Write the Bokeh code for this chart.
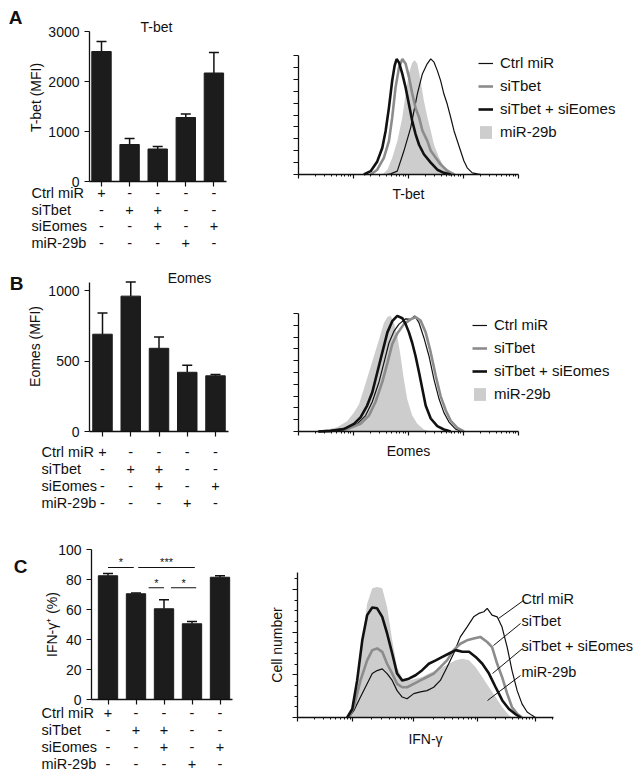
import numpy as np
from bokeh.plotting import figure
from bokeh.models import (ColumnDataSource, Whisker, Legend, LegendItem,
                          FixedTicker, Range1d, TeeHead)
from bokeh.layouts import row, column
from bokeh.embed import file_html
from bokeh.resources import INLINE
from bokeh.core.properties import value

FONT = "Liberation Sans"

# ---------------- data ----------------
samples = [0, 1, 2, 3, 4]
conditions = ["Ctrl miR", "siTbet", "siEomes", "miR-29b"]
table_marks = [
    ["+", "-", "-", "-", "-"],
    ["-", "+", "+", "-", "-"],
    ["-", "-", "+", "-", "+"],
    ["-", "-", "-", "+", "-"],
]

tbet_mfi = [2600, 740, 650, 1280, 2170]
tbet_err = [200, 120, 50, 70, 410]
eomes_mfi = [690, 960, 590, 420, 395]
eomes_err = [150, 100, 80, 50, 10]
ifng_pct = [82.5, 70.5, 60.5, 50.5, 81.5]
ifng_err = [1.5, 0.5, 6.0, 1.5, 1.0]

sig_x0 = [0.0, 1.08, 1.45, 2.25]
sig_x1 = [0.92, 3.1, 2.0, 3.15]
sig_y = [88, 88, 74.5, 74.5]
sig_text = ["*", "***", "*", "*"]

series_names = ["Ctrl miR", "siTbet", "siTbet + siEomes", "miR-29b"]

# T-bet histograms (channel, % of max)
tbet_ctrl_x = [400, 419, 449, 479, 510, 540, 563, 585, 601, 616, 631, 646, 661, 676, 692, 707, 722, 737, 752, 767, 790, 813, 830]
tbet_ctrl_y = [0, 0.5, 2.8, 19.7, 39.4, 67.6, 84.5, 93, 97.2, 94.4, 87.3, 78.9, 67.6, 59.2, 47.9, 36.6, 28.2, 19.7, 11.3, 5.6, 1.4, 0.5, 0]
tbet_si_x = [328, 358, 388, 411, 426, 441, 457, 472, 487, 502, 517, 532, 548, 563, 586, 601, 624, 646, 676, 707]
tbet_si_y = [0, 4, 14, 28, 48, 73, 90, 97, 93, 82, 68, 56, 48, 37, 28, 20, 14, 8.5, 3, 0]
tbet_sisi_x = [297, 328, 358, 381, 396, 411, 426, 437, 446, 457, 472, 487, 502, 517, 532, 548, 570, 601, 631, 661, 692]
tbet_sisi_y = [0, 2.8, 11, 22.5, 36.6, 56, 79, 91.5, 97, 94, 84.5, 73, 59, 45, 34, 25, 17, 10, 4, 1.4, 0]
tbet_29b_x = [381, 404, 426, 449, 472, 487, 502, 517, 528, 540, 555, 570, 586, 601, 616, 639, 661, 692, 722]
tbet_29b_y = [0, 4, 14, 28, 48, 68, 85, 94, 96, 93, 79, 62, 48, 37, 25, 14, 7, 3, 0]

# Eomes histograms
eomes_ctrl_x = [90, 146, 222, 267, 305, 335, 366, 388, 411, 434, 457, 487, 510, 528, 548, 570, 593, 616, 639, 661, 684, 714, 745]
eomes_ctrl_y = [0, 0.5, 3, 6.5, 13.5, 25, 42, 58, 75, 85, 91, 95.5, 95, 98, 92, 79.5, 64, 44, 27.5, 16, 8, 2, 0]
eomes_si_x = [90, 146, 222, 282, 320, 350, 381, 404, 426, 449, 479, 510, 532, 555, 578, 601, 624, 646, 669, 692, 722, 752]
eomes_si_y = [0, 0.5, 2, 6.5, 13.5, 25, 42, 58, 74, 83, 91, 95, 97, 94, 84, 67, 47, 30, 18, 9, 3, 0]
eomes_sisi_x = [90, 146, 206, 252, 282, 312, 335, 358, 381, 404, 426, 449, 472, 487, 502, 517, 532, 548, 563, 578, 601, 631, 661, 692]
eomes_sisi_y = [0, 0.5, 2, 6.5, 12, 22, 33, 50, 67, 84, 93.5, 98, 96, 91, 84, 75, 64, 50, 36, 22, 11, 4.5, 1.7, 0]
eomes_29b_x = [60, 115, 176, 222, 252, 275, 297, 320, 343, 366, 388, 404, 419, 434, 449, 464, 479, 494, 517, 540, 570, 601]
eomes_29b_y = [0, 1, 3.6, 9, 16, 23, 36, 50, 64, 78, 92, 97, 98, 92, 81, 64, 44, 27.5, 13.5, 6.5, 1.7, 0]

# IFN-g histograms (channel, cell number)
ifng_ctrl_x = [201, 220, 246, 272, 292, 311, 331, 350, 370, 389, 409, 428, 454, 480, 506, 532, 558, 584, 610, 636, 662, 688, 708, 728, 741, 760, 780, 799, 819, 838, 858, 877, 897, 916, 929]
ifng_ctrl_y = [0, 16, 48, 79, 103, 110, 114, 103, 87, 63, 48, 44, 56, 60, 63, 71, 87, 118, 150, 189, 212, 236, 244, 248, 256, 240, 236, 212, 165, 110, 63, 32, 13, 5, 0]
ifng_si_x = [201, 220, 246, 272, 292, 311, 331, 350, 370, 389, 409, 428, 454, 480, 506, 532, 558, 584, 610, 636, 662, 688, 714, 741, 760, 780, 799, 819, 838, 858, 877]
ifng_si_y = [0, 24, 87, 134, 158, 162, 154, 126, 103, 79, 71, 71, 79, 87, 95, 103, 118, 134, 158, 173, 181, 185, 189, 177, 165, 126, 95, 56, 24, 9, 0]
ifng_sisi_x = [194, 214, 233, 253, 272, 292, 311, 331, 350, 370, 389, 409, 435, 461, 487, 513, 540, 566, 592, 618, 644, 670, 696, 722, 748, 774, 800, 826, 853, 872]
ifng_sisi_y = [0, 20, 87, 181, 240, 258, 256, 236, 197, 150, 103, 87, 91, 99, 111, 126, 134, 142, 150, 158, 154, 154, 142, 126, 103, 71, 40, 20, 7, 0]
ifng_29b_x = [194, 214, 233, 253, 272, 292, 311, 331, 350, 370, 389, 409, 435, 461, 487, 513, 540, 566, 592, 618, 644, 670, 696, 722, 748, 774, 800, 826, 839]
ifng_29b_y = [0, 16, 71, 173, 267, 303, 306, 303, 259, 181, 118, 91, 87, 91, 95, 103, 111, 118, 126, 134, 138, 134, 118, 95, 71, 48, 24, 5, 0]

# ---------------- styling / layout ----------------
BAR = "#1c1c1c"
FILL = "#cdcdcd"
GRAY = "#8c8c8c"
INK = "#111111"
FS = "14px"
FS_TABLE = "14.5px"
FS_LEGEND = "15px"


class Canvas:
    """A figure whose frame is the whole canvas; page pixel -> data mapping."""

    def __init__(self, cx, cy, W, H, xr, yr):
        self.cx, self.cy, self.W, self.H, self.xr, self.yr = cx, cy, W, H, xr, yr
        self.p = figure(width=W, height=H, x_range=Range1d(*xr), y_range=Range1d(*yr),
                        output_backend="svg", toolbar_location=None,
                        min_border_left=0, min_border_right=0, min_border_top=0,
                        min_border_bottom=0)
        self.p.grid.visible = False
        self.p.outline_line_color = None

    def dx(self, px):
        return self.xr[0] + (px - self.cx) / self.W * (self.xr[1] - self.xr[0])

    def dy(self, py):
        return self.yr[0] + (self.cy + self.H - py) / self.H * (self.yr[1] - self.yr[0])

    def text(self, px, py, texts, size=FS, align="left", style="normal", angle=0.0):
        self.p.text(x=[self.dx(v) for v in px], y=[self.dy(v) for v in py], text=texts,
                    text_font=value(FONT), text_font_size=size, text_align=align,
                    text_baseline="middle", text_color=INK, text_font_style=style,
                    angle=angle)


def style_axis(ax, labels=True):
    ax.axis_line_color = INK
    ax.axis_line_width = 1.3
    ax.major_tick_line_color = INK
    ax.major_tick_line_width = 1.2
    ax.minor_tick_line_color = INK
    ax.major_tick_in = 0
    ax.minor_tick_in = 0
    ax.major_label_text_font = FONT
    ax.major_label_text_font_size = FS
    ax.major_label_text_color = INK
    ax.axis_label_text_font = FONT
    ax.axis_label_text_font_style = "normal"
    ax.axis_label_text_font_size = FS
    ax.axis_label_text_color = INK
    if not labels:
        ax.major_label_text_color = None
        ax.major_label_standoff = 0


def bar_panel(cx, cy, W, H, axis_px, xend_px, c0_px, step_px, y0_px, ppu,
              vals, errs, yticks, ybounds, ylabel, ylabel_px,
              title, title_px, letter, letter_px, label_x_px, rows_py):
    xr = (-(c0_px - cx) / step_px, -(c0_px - cx) / step_px + W / step_px)
    yr = (-(cy + H - y0_px) / ppu, (y0_px - cy) / ppu)
    c = Canvas(cx, cy, W, H, xr, yr)
    p = c.p
    src = ColumnDataSource(dict(x=samples, top=vals,
                                upper=[v + e for v, e in zip(vals, errs)], lower=vals))
    p.vbar(x="x", top="top", width=0.69, source=src, fill_color=BAR, line_color=BAR)
    p.add_layout(Whisker(base="x", upper="upper", lower="lower", source=src,
                         line_color=INK, line_width=1.5,
                         upper_head=TeeHead(size=10, line_width=1.5, line_color=INK),
                         lower_head=TeeHead(size=1, line_alpha=0)))
    x_axis_at = (axis_px - c0_px) / step_px
    ya = p.yaxis[0]
    style_axis(ya)
    ya.fixed_location = x_axis_at
    ya.ticker = FixedTicker(ticks=yticks)
    ya.bounds = ybounds
    ya.major_tick_out = 5
    ya.minor_tick_out = 0
    ya.major_label_standoff = 5
    xa = p.xaxis[0]
    style_axis(xa, labels=False)
    xa.fixed_location = 0
    xa.bounds = (x_axis_at, (xend_px - c0_px) / step_px)
    xa.ticker = FixedTicker(ticks=samples)
    xa.major_tick_out = 5
    xa.minor_tick_out = 0
    # y-axis title, placed as rotated text
    c.text([ylabel_px[0]], [ylabel_px[1]], [ylabel], align="center", angle=np.pi / 2)
    if title:
        c.text([title_px[0]], [title_px[1]], [title], align="center")
    c.text([letter_px[0]], [letter_px[1]], [letter], size="19px", align="center", style="bold")
    # condition table: marks under each bar, condition names on the left
    tx, ty, tt = [], [], []
    for r in range(len(conditions)):
        for s in samples:
            tx.append(s)
            ty.append(c.dy(rows_py[r]))
            tt.append(table_marks[r][s])
    p.text(x=tx, y=ty, text=tt, text_font=value(FONT), text_font_size=FS_TABLE,
           text_align="center", text_baseline="middle", text_color=INK)
    c.text([label_x_px] * len(conditions), rows_py, conditions, size=FS_TABLE)
    return c


def log_ticks(decades, end):
    minors = []
    for a, b in zip(decades[:-1], decades[1:]):
        for k in range(2, 10):
            minors.append(a + (b - a) * np.log10(k))
    step = decades[-1] - decades[-2]
    for k in range(2, 10):
        v = decades[-1] + step * np.log10(k)
        if v < end:
            minors.append(v)
    return list(decades), minors


def hist_panel(cx, cy, W, H, left_px, right_px, y0_px, top_px, ymax, xs, ys, xlabel,
               xlabel_standoff, decades, yt_major, yt_minor):
    upx = 1000 / (right_px - left_px)
    upy = ymax / (y0_px - top_px)
    xr = (-(left_px - cx) * upx, -(left_px - cx) * upx + W * upx)
    yr = (-(cy + H - y0_px) * upy, (y0_px - cy) * upy)
    c = Canvas(cx, cy, W, H, xr, yr)
    p = c.p
    (cxs, cys), (sx, sy), (tx2, ty2), (fx, fy) = zip(xs, ys)
    r_fill = p.varea(x=fx, y1=0, y2=fy, fill_color=FILL)
    r_ctrl = p.line(cxs, cys, line_color=INK, line_width=1.2)
    r_si = p.line(sx, sy, line_color=GRAY, line_width=2.6)
    r_sisi = p.line(tx2, ty2, line_color=INK, line_width=2.6)
    xa = p.xaxis[0]
    style_axis(xa, labels=False)
    xa.fixed_location = 0
    xa.bounds = (0, 1000)
    maj, mino = log_ticks(decades, 1000)
    xa.ticker = FixedTicker(ticks=maj, minor_ticks=mino)
    xa.major_tick_out = 4
    xa.minor_tick_out = 2
    xa.axis_label = xlabel
    xa.axis_label_standoff = xlabel_standoff
    ya = p.yaxis[0]
    style_axis(ya, labels=False)
    ya.fixed_location = 0
    ya.bounds = (0, ymax)
    ya.ticker = FixedTicker(ticks=yt_major, minor_ticks=yt_minor)
    ya.major_tick_out = 5
    ya.minor_tick_out = 3
    return c, (r_ctrl, r_si, r_sisi, r_fill)


def add_legend(c, rends, left_px, bottom_py):
    items = [LegendItem(label=n, renderers=[r]) for n, r in zip(series_names, rends)]
    leg = Legend(items=items, location=(left_px - c.cx, c.cy + c.H - bottom_py),
                 orientation="vertical",
                 label_text_font=FONT, label_text_font_size=FS_LEGEND, label_text_color=INK,
                 glyph_width=15, glyph_height=16, label_height=16, label_standoff=7,
                 spacing=6, padding=0, margin=0, border_line_color=None,
                 background_fill_alpha=0)
    c.p.add_layout(leg)


LW, RW = 250, 389          # column widths (page pixels)
HA, HB, HC = 258, 258, 261  # row heights

# ---- Panel A ----
a1 = bar_panel(0, 0, LW, HA, 89, 226, 101, 28.1, 181, 0.05,
               tbet_mfi, tbet_err, [0, 1000, 2000, 3000], (0, 3000), "T-bet (MFI)", (35, 97),
               "T-bet", (156, 26), "A", (15, 17), 31, [192, 209, 225, 242])
a2, ra = hist_panel(LW, 0, RW, HA, 298, 518, 174, 55, 100,
                    [tbet_ctrl_x, tbet_si_x, tbet_sisi_x, tbet_29b_x],
                    [tbet_ctrl_y, tbet_si_y, tbet_sisi_y, tbet_29b_y],
                    "T-bet", 7, [0, 250, 500, 750, 1000], list(range(0, 101, 10)), [])
add_legend(a2, ra, 478, 140)

# ---- Panel B ----
b1 = bar_panel(0, HA, LW, HB, 89, 228, 102, 28.25, 431, 0.141,
               eomes_mfi, eomes_err, [0, 500, 1000], (0, 1060), "Eomes (MFI)", (34, 346),
               "Eomes", (189, 277), "B", (16, 283), 41, [451, 468, 485, 502])
b2, rb = hist_panel(LW, HA, RW, HB, 298, 518, 431, 313, 100,
                    [eomes_ctrl_x, eomes_si_x, eomes_sisi_x, eomes_29b_x],
                    [eomes_ctrl_y, eomes_si_y, eomes_sisi_y, eomes_29b_y],
                    "Eomes", 7, [0, 250, 500, 750, 1000], list(range(0, 101, 10)), [])
add_legend(b2, rb, 472, 402)

# ---- Panel C ----
c1 = bar_panel(0, HA + HB, LW, HC, 91, 232, 107.5, 28.0, 699, 1.5,
               ifng_pct, ifng_err, [0, 20, 40, 60, 80, 100], (0, 100), "IFN-γ⁺ (%)", (51, 624),
               None, None, "C", (20, 566), 41, [712, 729, 746, 763])
c1.p.segment(x0=sig_x0, y0=sig_y, x1=sig_x1, y1=sig_y, line_color=INK, line_width=1.2)
c1.p.text(x=[(a + b) / 2 for a, b in zip(sig_x0, sig_x1)], y=[v + 3.5 for v in sig_y],
          text=sig_text, text_font=value(FONT), text_font_size="11px", text_align="center",
          text_baseline="middle", text_color=INK)

c2, rc = hist_panel(LW, HA + HB, RW, HC, 297, 553, 717, 572, 340,
                    [ifng_ctrl_x, ifng_si_x, ifng_sisi_x, ifng_29b_x],
                    [ifng_ctrl_y, ifng_si_y, ifng_sisi_y, ifng_29b_y],
                    "IFN-γ", 9, [0, 215, 455, 705, 930], [0, 100, 200, 300],
                    [25, 50, 75, 125, 150, 175, 225, 250, 275, 325])
c2.p.yaxis[0].axis_label = "Cell number"
c2.p.yaxis[0].axis_label_standoff = 8
label_py = [598, 620, 645, 671]
leader = [((498, 618), (523, 600)), ((493, 645), (520, 623)),
          ((492, 673), (522, 648)), ((487, 700), (520, 675))]
c2.p.segment(x0=[c2.dx(a[0]) for a, b in leader], y0=[c2.dy(a[1]) for a, b in leader],
             x1=[c2.dx(b[0]) for a, b in leader], y1=[c2.dy(b[1]) for a, b in leader],
             line_color=INK, line_width=1)
c2.text([521] * 4, label_py, series_names, size="14.5px")

layout = column(row(a1.p, a2.p), row(b1.p, b2.p), row(c1.p, c2.p))
open("out.html", "w").write(file_html(layout, INLINE))
